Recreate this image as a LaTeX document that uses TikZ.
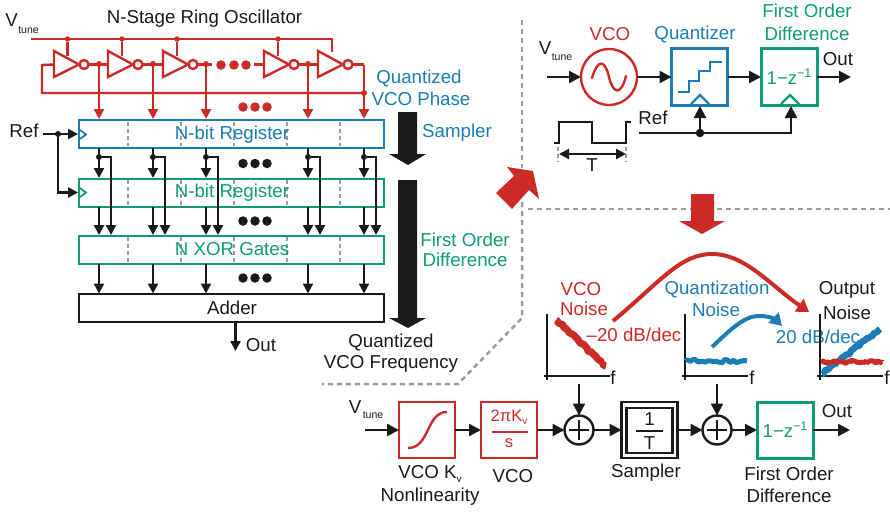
\documentclass[tikz,border=0pt]{standalone}
\usepackage{fontspec}
\setmainfont{Liberation Sans}
\usetikzlibrary{arrows.meta,decorations.pathmorphing}
\definecolor{cred}{HTML}{CC2A27}
\definecolor{cblue}{HTML}{1B7DB4}
\definecolor{cgreen}{HTML}{0E9C78}
\definecolor{cblack}{HTML}{1A1A18}
\definecolor{cgray}{HTML}{9A9A9A}
\newcommand{\lowtxt}[1]{\raisebox{-0.35ex}{\fontsize{10}{10}\selectfont #1}}
\newcommand{\hightxt}[1]{\raisebox{0.7ex}{\fontsize{12.5}{12.5}\selectfont #1}}
\tikzset{
 x=1pt,y=-1pt,
 every node/.style={inner sep=0pt,outer sep=0pt,font=\fontsize{18.7}{22}\selectfont,text=cblack},
 tip/.style={-{Triangle[length=12pt,width=12pt]}},
 smalltip/.style={-{Triangle[length=10pt,width=10pt]}},
 wire/.style={line width=2.4pt,cblack},
 rwire/.style={line width=2.4pt,cred},
 dotr/.style={circle,fill=cred,minimum size=9.5pt},
 dotk/.style={circle,fill=cblack,minimum size=9.5pt},
 jn/.style={circle,fill=#1,minimum size=6pt},
 reg/.style={draw=#1,line width=2pt,minimum width=305pt,minimum height=28pt,fill=white},
 sep/.style={cgray,line width=1.3pt,dash pattern=on 4pt off 3pt},
 zone/.style={cgray,line width=2.5pt,dash pattern=on 5pt off 4pt},
 sbox/.style={draw=#1,line width=3pt,minimum width=56pt,minimum height=56pt},
 sub/.style={font=\fontsize{10.5}{12}\selectfont},
 rt/.style={text=cred},bt/.style={text=cblue},gt/.style={text=cgreen},
 formula/.style={font=\fontsize{16.5}{18}\selectfont},
 zformula/.style={font=\fontsize{18.5}{20}\selectfont},
 bigarrow/.style={fill=cblack,draw=none},
 noisy/.style={decorate,decoration={random steps,segment length=1.8pt,amplitude=#1},line join=bevel},
 axis/.style={line width=2pt,cblack},
 sumc/.style={circle,draw=cblack,line width=2.4pt,minimum size=29pt},
}
\begin{document}
\begin{tikzpicture}
\useasboundingbox (0,0) rectangle (890,511);
\pgfmathsetseed{7}
% ---------- ring oscillator
\node (tv) at (11.5,20) {V};
\node[sub] (ts) at (28.5,30.5) {tune};
\node (title) at (204.5,19) {N-Stage Ring Oscillator};
\coordinate (rs) at (31,39);
\coordinate (re) at (332,39);
\draw[rwire] (rs) -- (re) -- (332,52);
\foreach \xl/\tx in {54/67.5,108/122,163/177,264/278}{
  \node[jn=cred,minimum size=5.5pt] (t\xl) at (\tx,39) {};
  \draw[rwire] (t\xl) -- (\tx,56);
}
\foreach \xl in {54,108,163,264,318}{
  \draw[rwire,fill=white,line join=miter] (\xl,51) -- (\xl,77) -- (\xl+25,64.5) -- cycle;
  \node[circle,draw=cred,line width=2.4pt,minimum size=9pt] (b\xl) at (\xl+30,64.5) {};
}
\coordinate (fbA) at (42,65);
\coordinate (fbB) at (42,93);
\coordinate (fbC) at (364,93);
\draw[rwire] (54,64.5) -- (fbA) -- (fbB) -- (fbC);
\draw[rwire] (b54) -- (108,64.5);
\draw[rwire] (b108) -- (163,64.5);
\draw[rwire] (b163) -- (212,64.5);
\draw[rwire] (254,64.5) -- (264,64.5);
\draw[rwire] (b264) -- (318,64.5);
\coordinate (lastc) at (364,64.5);
\draw[rwire] (b318) -- (lastc);
\foreach \x in {221,234,246}{\node[dotr] (rd\x) at (\x,65) {};}
\foreach \x in {243,255,267}{
  \node[dotr] (r2\x) at (\x,107) {};
  \node[dotk] (k1\x) at (\x,163.5) {};
  \node[dotk] (k2\x) at (\x,221) {};
  \node[dotk] (k3\x) at (\x,278) {};
}
% ---------- registers
\node[reg=cblue] (rega) at (231.5,134) {};
\node[reg=cgreen] (regb) at (231.5,192.5) {};
\node[reg=cgreen] (regc) at (231.5,249.5) {};
\node[reg=cblack,line width=2.4pt] (add) at (231.5,308) {};
\foreach \x in {128,181,234,287,340}{
  \draw[sep] (\x,122) -- (\x,146);
  \draw[sep] (\x,180) -- (\x,205);
  \draw[sep] (\x,237) -- (\x,262);
}
\node[text=cblue] at (232,134.5) {N-bit Register};
\node[text=cgreen] at (232,192.5) {N-bit Register};
\node[text=cgreen] at (232,249.5) {N XOR Gates};
\node at (232,308) {Adder};
\draw[cblue,line width=1.8pt] (80,130) -- (86,134.5) -- (80,139);
\draw[cgreen,line width=1.8pt] (80,188) -- (86,192.5) -- (80,197);
% column wires
\foreach \x/\y in {99/111,153/165,206/218,308/320,364/376}{
  \draw[rwire,smalltip] (\x,64.5) -- (\x,119);
  \node[jn=cblack] (ja\x) at (\x,157) {};
  \draw[wire,smalltip] (\x,148) -- (\x,178);
  \draw[wire,smalltip] (ja\x) -- (\y,157) -- (\y,235);
  \draw[wire,smalltip] (\x,207) -- (\x,235);
  \draw[wire,smalltip] (\x,264) -- (\x,293.5);
}
\foreach \x in {99,153,206,308}{\node[jn=cred] at (\x,64) {};}
\node[jn=cred] at (364,93) {};
% ref
\node (ref) at (24,131) {Ref};
\node[jn=cblack] (jr) at (58,134) {};
\draw[wire,smalltip] (43,134) -- (78,134);
\draw[wire,smalltip] (jr) -- (58,192.5) -- (78,192.5);
% out
\node (aout) at (261,345) {Out};
\draw[wire,smalltip] (add.south -| 235.5,0) -- (235.5,351);
% big arrows
\fill[bigarrow] (398,112) -- (417,112) -- (417,154) -- (426,154) -- (408,165) -- (389,154) -- (398,154) -- cycle;
\fill[bigarrow] (398,180) -- (417,180) -- (417,318) -- (426,318) -- (408,328) -- (389,318) -- (398,318) -- cycle;
\node[bt] at (419,78) {Quantized};
\node[bt] at (421,99) {VCO Phase};
\node[bt] at (457,133) {Sampler};
\node[gt] at (465,240) {First Order};
\node[gt] at (465,260) {Difference};
\node at (391,342) {Quantized};
\node at (391,364) {VCO Frequency};
% zones
\draw[zone] (522,20) -- (522,168);
\draw[zone] (522,202) -- (522,318) -- (458,384) -- (322,384);
\draw[zone] (528,209) -- (890,209);
% red arrows
\fill[cred] (533,171) -- (539,199) -- (529,190) -- (512,209) -- (496,193) -- (514,176) -- (507,167) -- cycle;
\fill[cred] (691,194) -- (714,194) -- (714,221) -- (725,221) -- (702,234) -- (679,221) -- (691,221) -- cycle;
% ---------- top right
\node (tv2) at (545,48) {V};
\node[sub] (ts2) at (562,57) {tune};
\coordinate (vin2) at (547,77);
\node[circle,draw=cred,line width=2.4pt,minimum size=56pt] (vco) at (609,77) {};
\draw[cred,line width=2.4pt,line cap=round] (592,78) .. controls (598,58) and (605,60) .. (609,77) .. controls (613,94) and (621,96) .. (626,76);
\node[rt] at (610,34) {VCO};
\node[sbox=cblue] (q) at (699.5,77) {};
\node[sbox=cgreen] (fod) at (789,77) {};
\node[bt] at (695,34) {Quantizer};
\node[gt] at (807,11) {First Order};
\node[gt] at (807,34) {Difference};
\node[text=cgreen,zformula] at (789,77) {1−z\hightxt{−1}};
\draw[cblue,line width=2.6pt] (678,92) -- (689,92) -- (689,81) -- (699,81) -- (699,71) -- (710,71) -- (710,62) -- (722,62);
\draw[cblue,line width=2.4pt] (691,104) -- (700,95) -- (709,104);
\draw[cgreen,line width=2.4pt] (781,104) -- (790,95) -- (799,104);
\draw[wire,tip] (vin2) -- (vco);
\draw[wire,tip] (vco) -- (q);
\draw[wire,tip] (q) -- (fod);
\coordinate (out2) at (851,77);
\draw[wire,tip] (fod) -- (out2);
\node at (838,59) {Out};
\node (ref2) at (653,118) {Ref};
\coordinate (rs2) at (639,133);
\coordinate (rc2) at (791,133);
\node[jn=cblack,minimum size=8.5pt] (j2) at (700,133) {};
\draw[wire,tip] (rs2) -- (rc2) -- (791,106);
\draw[wire,tip] (j2) -- (700,106);
\draw[wire,line join=miter] (554,143) -- (559,143) -- (559,122) -- (592,122) -- (592,143) -- (626,143) -- (626,122) -- (631,122);
\draw[sep,line width=2pt] (558,147) -- (558,162);
\draw[sep,line width=2pt] (626,147) -- (626,162);
\coordinate (ta) at (559,154);
\coordinate (tb) at (626,154);
\draw[wire,{Triangle[length=10pt,width=10pt]}-{Triangle[length=10pt,width=10pt]}] (ta) -- (tb);
\node at (592,165) {T};
% ---------- noise
\node[rt] at (581,289) {VCO};
\node[rt] at (584,309) {Noise};
\node[rt] at (634,335) {–20 dB/dec};
\node[bt] at (717,289) {Quantization};
\node[bt] at (716,310) {Noise};
\node[bt] at (818,337) {20 dB/dec};
\node at (847,290) {Output};
\node at (847,313) {Noise};
\coordinate (ca) at (613,321);
\coordinate (cb) at (809,312);
\draw[cred,line width=4pt,-{Triangle[length=12pt,width=15pt]}] (ca) .. controls (660,282) and (680,254) .. (712,254) .. controls (745,254) and (770,285) .. (cb);
\coordinate (da) at (712,347);
\coordinate (db) at (782,326);
\draw[cblue,line width=4pt,-{Triangle[length=12pt,width=14pt]}] (da) .. controls (730,330) and (745,315) .. (760,316) .. controls (770,316) and (776,320) .. (db);
% plots
\foreach \n/\xa in {a/547,b/685,c/820}{
  \draw[axis] (\xa,314) -- (\xa,380);
  \draw[axis] (\xa-3,376) -- (\xa+63,376);
}
\node (fa) at (613,378) {f};
\node (fb) at (752,378) {f};
\node (fc) at (887,378) {f};
\draw[cred,noisy=1.1pt,line width=7pt] (556,320) -- (606,366);
\draw[cblue,noisy=1.6pt,line width=5pt] (686,361) -- (747,361);
\draw[cblue,noisy=1.1pt,line width=6.5pt] (822,374) -- (880,329);
\draw[cred,noisy=1.6pt,line width=5pt] (821,362) -- (882,362);
% ---------- bottom chain
\node (tv3) at (355,407) {V};
\node[sub] (ts3) at (373,415) {tune};
\coordinate (vin3) at (365,430);
\node[sbox=cred,line width=2.6pt] (kv) at (427,430) {};
\draw[cred,line width=2.4pt] (408,448) .. controls (430,448) and (426,412) .. (447,412);
\node[sbox=cred,line width=2.6pt] (vc) at (509,430) {};
\node[text=cred,formula] (nm) at (509,417) {2πK\lowtxt{v}};
\coordinate (fl) at (492,432); \coordinate (fr) at (528,432);
\draw[cred,line width=2.4pt] (fl) -- (fr);
\node[text=cred,formula] (dn) at (509,443) {s};
\node[sumc] (s1) at (579,430) {};
\node[sumc] (s2) at (717,430) {};
\foreach \s in {s1,s2}{
  \draw[wire] (\s.center) ++(-10,0) -- ++(20,0);
  \draw[wire] (\s.center) ++(0,-10) -- ++(0,20);
}
\node[draw=cblack,line width=2.4pt,minimum width=56pt,minimum height=56pt] (sm) at (649.5,430) {};
\node[draw=cblack,line width=2.4pt,minimum width=46pt,minimum height=45pt] (smi) at (649.5,430.5) {};
\coordinate (sl) at (636,431); \coordinate (sr) at (663,431);
\draw[wire] (sl) -- (sr);
\node at (649.5,419) {1};
\node at (649.5,443) {T};
\node[sbox=cgreen] (f2) at (785,430) {};
\node[text=cgreen,zformula] at (785,430) {1−z\hightxt{−1}};
\coordinate (out3) at (850,430);
\foreach \a/\b in {vin3/kv,kv/vc,vc/s1,s1/sm,sm/s2,s2/f2,f2/out3}{
  \draw[wire,tip] (\a) -- (\b);
}
\coordinate (ni1) at (579,384);
\coordinate (ni2) at (717,384);
\draw[wire,tip] (ni1) -- (s1);
\draw[wire,tip] (ni2) -- (s2);
\node at (837,411) {Out};
\node (l1) at (430,474) {VCO K\lowtxt{v}};
\node (l2) at (430,497) {Nonlinearity};
\node (l3) at (513,476) {VCO};
\node (l4) at (646,473) {Sampler};
\node (l5) at (789,474) {First Order};
\node (l6) at (789,496) {Difference};
\end{tikzpicture}
\end{document}
